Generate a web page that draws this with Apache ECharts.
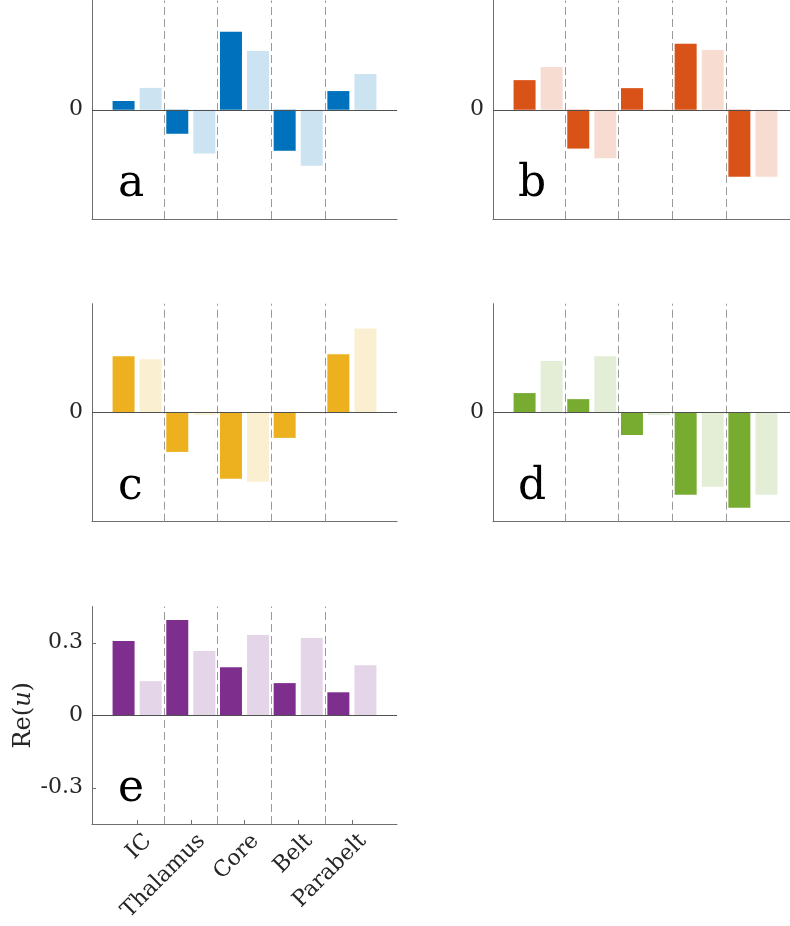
<!DOCTYPE html>
<html>
<head>
<meta charset="utf-8">
<script src="https://cdn.jsdelivr.net/npm/echarts@6/dist/echarts.min.js"></script>
<style>
html,body{margin:0;padding:0;background:#fff;}
#chart{width:790px;height:926px;}
</style>
</head>
<body>
<div id="chart"></div>
<script>
const categories = ['IC', 'Thalamus', 'Core', 'Belt', 'Parabelt'];
const aDark  = [0.036, -0.099, 0.321, -0.169, 0.077];
const aLight = [0.090, -0.180, 0.242, -0.231, 0.147];
const bDark  = [0.122, -0.160, 0.089, 0.272, -0.276];
const bLight = [0.176, -0.200, 0.002, 0.246, -0.276];
const cDark  = [0.233, -0.162, -0.273, -0.104, 0.241];
const cLight = [0.221, -0.008, -0.285, -0.003, 0.348];
const dDark  = [0.081, 0.056, -0.092, -0.339, -0.392];
const dLight = [0.213, 0.233, -0.010, -0.306, -0.339];
const eDark  = [0.307, 0.394, 0.199, 0.133, 0.095];
const eLight = [0.141, 0.266, 0.332, 0.320, 0.207];
const yTicksE = [-0.3, 0, 0.3];
const yTicksOther = [0];
const xTickValues = [1, 2, 3, 4, 5];
const separators = [1.5, 2.5, 3.5, 4.5];
const panelLetters = ['a', 'b', 'c', 'd', 'e'];
const yAxisTitle = ['Re(', 'u', ')'];

const darkSets = [aDark, bDark, cDark, dDark, eDark];
const lightSets = [aLight, bLight, cLight, dLight, eLight];
const darkColors = ['#0072BD', '#D95319', '#EDB120', '#77AC30', '#7E2F8E'];
const lightColors = ['#CCE3F2', '#F7DDD1', '#FBEFD2', '#E4EED6', '#E5D5E8'];

const FONT = '"DejaVu Serif", serif';
const axisColor = '#6e6e6e';
const textColor = '#262626';
const labelShift = 0.06; // rotated labels sit slightly right of their tick

const panels = [
  {left: 92, top: 0.5, height: 218.5},
  {left: 493, top: 0.5, height: 218.5},
  {left: 92, top: 303.7, height: 218},
  {left: 493, top: 303.7, height: 218},
  {left: 92, top: 606.5, height: 217.5}
];
const letterPos = [[118, 185], [518, 185], [118, 488], [518, 488], [118, 790]];

const grids = [], xAxes = [], yAxes = [], series = [], graphics = [];
panels.forEach((p, i) => {
  grids.push({left: p.left, top: p.top, width: 305, height: p.height, containLabel: false, outerBoundsMode: 'none'});
  const isE = i === 4;
  xAxes.push({
    gridIndex: i, type: 'value', min: 0.16, max: 5.84, position: 'bottom',
    axisLine: {show: true, onZero: false, lineStyle: {color: axisColor, width: 1}},
    splitLine: {show: false},
    axisTick: {show: isE, inside: true, length: 4, customValues: xTickValues, lineStyle: {color: axisColor}},
    axisLabel: {show: isE, customValues: xTickValues.map(v => v + labelShift),
      formatter: v => categories[Math.round(v) - 1],
      rotate: 45, verticalAlign: 'top', align: 'right',
      fontFamily: FONT, fontSize: 22, color: textColor, margin: 6}
  });
  const yt = isE ? yTicksE : yTicksOther;
  const ya = {
    gridIndex: i, type: 'value', min: -0.45, max: 0.45,
    axisLine: {show: true, onZero: false, lineStyle: {color: axisColor, width: 1}},
    splitLine: {show: false},
    axisTick: {show: true, inside: true, length: 4, customValues: yt, lineStyle: {color: axisColor}},
    axisLabel: {customValues: yt, formatter: v => (v === 0 ? '0' : String(v)),
      fontFamily: FONT, fontSize: 22, color: textColor, margin: 9}
  };
  if (isE) {
    ya.name = '{n|' + yAxisTitle[0] + '}{i|' + yAxisTitle[1] + '}{n|' + yAxisTitle[2] + '}';
    ya.nameLocation = 'middle';
    ya.nameGap = 56;
    ya.nameRotate = 90;
    ya.nameTextStyle = {fontFamily: FONT, fontSize: 24, color: textColor,
      rich: {n: {fontFamily: FONT, fontSize: 24, color: textColor},
             i: {fontFamily: FONT, fontSize: 24, color: textColor, fontStyle: 'italic'}}};
  }
  yAxes.push(ya);
  series.push({
    type: 'bar', xAxisIndex: i, yAxisIndex: i,
    data: darkSets[i].map((v, k) => [xTickValues[k], v]),
    barWidth: 22, barGap: '23%', itemStyle: {color: darkColors[i]}, animation: false
  });
  series.push({
    type: 'bar', xAxisIndex: i, yAxisIndex: i,
    data: lightSets[i].map((v, k) => [xTickValues[k], v]),
    barWidth: 22, barGap: '23%', itemStyle: {color: lightColors[i]}, animation: false
  });
  series.push({
    type: 'scatter', xAxisIndex: i, yAxisIndex: i, data: [], silent: true, animation: false,
    markLine: {
      silent: true, symbol: 'none', animation: false, label: {show: false},
      data: separators.map(s => ({xAxis: s, lineStyle: {type: [8, 4], color: '#9a9a9a', width: 1}}))
        .concat([{yAxis: 0, lineStyle: {type: 'solid', color: '#505050', width: 1}}])
    }
  });
  graphics.push({
    type: 'text', x: letterPos[i][0], y: letterPos[i][1], z: 100,
    style: {text: panelLetters[i], font: '44px "DejaVu Serif", serif', fill: '#000',
      align: 'left', verticalAlign: 'middle'}
  });
});

const chart = echarts.init(document.getElementById('chart'), null, {renderer: 'canvas'});
chart.setOption({
  animation: false,
  backgroundColor: '#fff',
  grid: grids, xAxis: xAxes, yAxis: yAxes, series: series, graphic: graphics
});
</script>
</body>
</html>
